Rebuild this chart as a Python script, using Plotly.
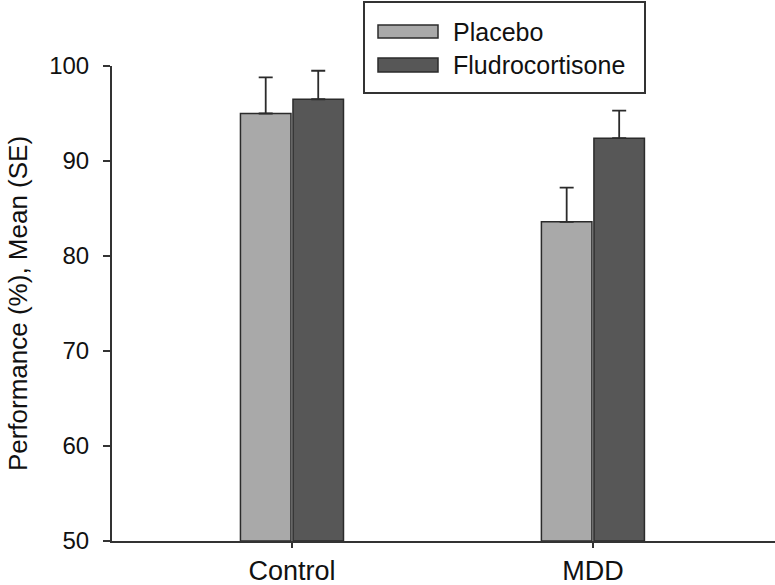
import plotly.graph_objects as go

# ---- data ----
groups = ["Control", "MDD"]
series_names = ["Placebo", "Fludrocortisone"]
placebo_mean = [95.0, 83.6]
placebo_se = [3.8, 3.6]
fludro_mean = [96.5, 92.4]
fludro_se = [3.0, 2.9]
y_ticks = [50, 60, 70, 80, 90, 100]

# ---- style ----
colors = ["#a9a9a9", "#575757"]
edge = "#2b2b2b"
font = "Liberation Sans, Arial, sans-serif"

W, H = 775, 585
ml, mr, mt, mb = 112, 0, 66, 44
pw, ph = W - ml - mr, H - mt - mb

xpos = list(range(len(groups)))

fig = go.Figure()
for name, means, ses, col in [
    (series_names[0], placebo_mean, placebo_se, colors[0]),
    (series_names[1], fludro_mean, fludro_se, colors[1]),
]:
    fig.add_trace(go.Bar(
        x=xpos, y=[m - 50 for m in means], base=50, name=name,
        marker=dict(color=col, line=dict(color=edge, width=1.5)),
        error_y=dict(type="data", symmetric=False, array=ses,
                     arrayminus=[0] * len(ses), color=edge,
                     thickness=1.8, width=7),
        showlegend=False,
    ))

fig.update_layout(
    width=W, height=H,
    margin=dict(l=ml, r=mr, t=mt, b=mb),
    paper_bgcolor="white", plot_bgcolor="white",
    barmode="group", bargap=0.651, bargroupgap=0.038,
    font=dict(family=font, color="#111111"),
)
fig.update_xaxes(
    range=[-0.598, 1.605], tickvals=xpos, ticktext=groups,
    showgrid=False, zeroline=False, showline=True,
    linecolor="#333333", linewidth=2,
    ticks="outside", ticklen=5, tickwidth=1.5, tickcolor="#333333",
    tickfont=dict(size=27, family=font, color="#111111"),
)
fig.update_yaxes(
    range=[50, 100], tickvals=y_ticks,
    showgrid=False, zeroline=False, showline=True,
    linecolor="#333333", linewidth=2,
    ticks="outside", ticklen=7, tickwidth=1.5, tickcolor="#333333",
    ticklabelstandoff=9,
    tickfont=dict(size=24, family=font, color="#111111"),
    title=dict(text="Performance (%), Mean (SE)",
               font=dict(size=26, family=font, color="#111111"),
               standoff=14),
)

# ---- legend drawn as a box (pixel positions converted to paper coords) ----
def px(x):
    return (x - ml) / pw

def py(y):
    return (H - mb - y) / ph

shapes = [dict(type="rect", xref="paper", yref="paper",
               x0=px(364), x1=px(645), y0=py(93), y1=py(2),
               line=dict(color="#333333", width=2), fillcolor="white", layer="above")]
annotations = []
rows = [(25, 38), (58, 72)]
for (y0, y1), name, col in zip(rows, series_names, colors):
    shapes.append(dict(type="rect", xref="paper", yref="paper",
                       x0=px(378), x1=px(438), y0=py(y1), y1=py(y0),
                       line=dict(color=edge, width=1.5), fillcolor=col, layer="above"))
    annotations.append(dict(xref="paper", yref="paper", x=px(451), y=py((y0 + y1) / 2),
                            text=name, showarrow=False, xanchor="left", yanchor="middle",
                            font=dict(size=25, family=font, color="#111111")))
fig.update_layout(shapes=shapes, annotations=annotations)

fig.write_html("out.html", config={"displayModeBar": False},
               post_script="document.body.style.margin='0px';document.body.style.overflow='hidden';")
